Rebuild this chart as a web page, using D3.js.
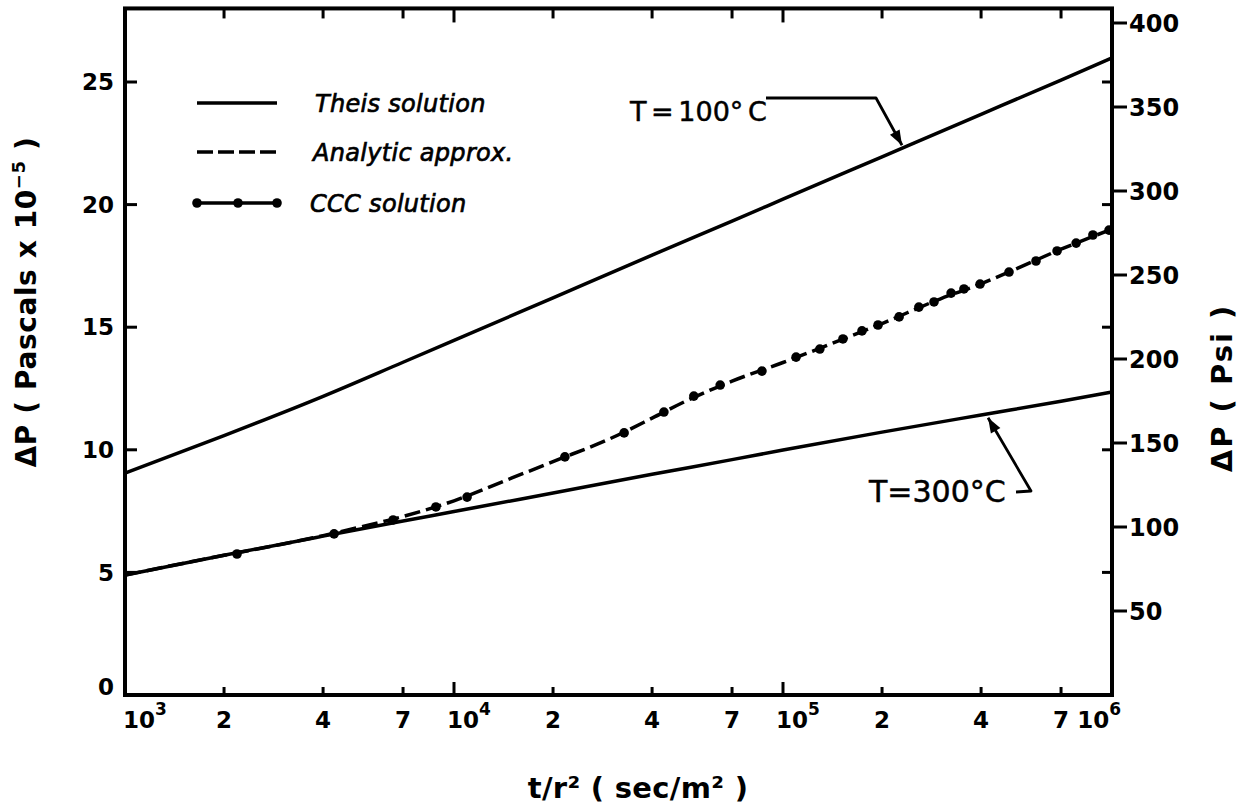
<!DOCTYPE html>
<html>
<head>
<meta charset="utf-8">
<script src="https://cdn.jsdelivr.net/npm/d3@7"></script>
<style>
  html, body { margin: 0; padding: 0; background: #fff; }
  svg { display: block; }
  text { font-family: "DejaVu Sans", sans-serif; fill: #000; }
</style>
</head>
<body>
<svg id="chart" width="1248" height="812"></svg>
<script>
// Pressure build-up ΔP (units of 10^5 Pa) against t/r^2 (sec/m^2)

// Theis solutions sampled on the labelled grid times
const theisTimes = [1e3, 2e3, 4e3, 7e3, 1e4, 2e4, 4e4, 7e4, 1e5, 2e5, 4e5, 7e5, 1e6];
const theis100 = [9.05, 10.58, 12.18, 13.57, 14.46, 16.2, 17.94, 19.33, 20.22, 21.95, 23.68, 25.08, 25.98];
const theis300 = [4.89, 5.70, 6.48, 7.10, 7.48, 8.24, 9.0, 9.6, 9.99, 10.72, 11.42, 11.98, 12.36];

// Analytic approximation
const analyticTimes = [1e3, 2e3, 3e3, 4e3, 5e3, 7e3, 1e4, 1.5e4, 2e4, 3e4, 4e4, 5e4, 7e4, 1e5, 1.5e5, 2e5, 3e5, 4e5, 5e5, 7e5, 1e6];
const analyticValues = [4.89, 5.70, 6.15, 6.50, 6.80, 7.28, 7.92, 8.85, 9.52, 10.47, 11.29, 11.95, 12.80, 13.56, 14.48, 15.15, 16.15, 16.77, 17.32, 18.18, 19.0];

// CCC solution points
const cccTimes = [2190, 4320, 6530, 8810, 10960, 21730, 32890, 43450, 53580, 64420, 86300,
  109600, 129400, 152100, 173800, 194500, 225400, 258800, 287700, 324300, 354800, 397200,
  486400, 587500, 680800, 778000, 874900, 979500];
const cccValues = [5.75, 6.57, 7.14, 7.67, 8.07, 9.71, 10.69, 11.54, 12.19, 12.64, 13.21,
  13.78, 14.11, 14.52, 14.85, 15.09, 15.42, 15.82, 16.03, 16.39, 16.56, 16.76,
  17.25, 17.70, 18.11, 18.43, 18.76, 18.96];

// Axis ticks
const paTicks = [0, 5, 10, 15, 20, 25];
const psiTicks = [50, 100, 150, 200, 250, 300, 350, 400];
const decadeExponents = [3, 4, 5, 6];
const minorMultipliers = [2, 4, 7];

// Text
const legendLabels = ["Theis solution", "Analytic approx.", "CCC solution"];
const curveLabels = ["T = 100° C", "T=300°C"];

const svg = d3.select("#chart");
const ink = "#000";

const plotLeft = 125, plotRight = 1112, plotBottom = 695;
const pxPerUnit = 24.52;
const x = d3.scaleLog().domain([1e3, 1e6]).range([plotLeft, plotRight]);
const y = d3.scaleLinear().domain([0, 28]).range([plotBottom, plotBottom - 28 * pxPerUnit]);
const yPsi = d3.scaleLinear().domain([0, 400]).range([plotBottom, 23]);
const plotTop = y(28);

const pts = (ts, vs) => ts.map((t, i) => ({ t, v: vs[i] }));
const line = d3.line().x(d => x(d.t)).y(d => y(d.v)).curve(d3.curveMonotoneX);

// value of a sampled curve at time t (linear in log t)
function valueAt(ts, vs, t) {
  const lt = Math.log10(t);
  for (let i = 0; i < ts.length - 1; i++) {
    const a = Math.log10(ts[i]), b = Math.log10(ts[i + 1]);
    if (lt >= a && lt <= b) return vs[i] + (vs[i + 1] - vs[i]) * (lt - a) / (b - a);
  }
  return vs[vs.length - 1];
}

// ---- curves ----
const curves = svg.append("g").attr("fill", "none").attr("stroke", ink)
  .attr("stroke-linecap", "round");

curves.append("path").attr("d", line(pts(theisTimes, theis100))).attr("stroke-width", 3.5);
curves.append("path").attr("d", line(pts(theisTimes, theis300))).attr("stroke-width", 3.5);
curves.append("path").attr("d", line(pts(analyticTimes, analyticValues)))
  .attr("stroke-width", 3.5).attr("stroke-dasharray", "16,6").attr("stroke-linecap", "butt");

svg.append("g").selectAll("circle").data(pts(cccTimes, cccValues)).join("circle")
  .attr("cx", d => x(d.t)).attr("cy", d => y(d.v)).attr("r", 4.8).attr("fill", ink);

// ---- frame ----
svg.append("rect").attr("x", plotLeft).attr("y", plotTop).attr("width", plotRight - plotLeft)
  .attr("height", plotBottom - plotTop).attr("fill", "none").attr("stroke", ink).attr("stroke-width", 4);

const ticks = svg.append("g").attr("stroke", ink).attr("stroke-width", 3);

// bottom / top ticks (log axis)
const xTicks = [];
decadeExponents.forEach(e => {
  xTicks.push({ v: Math.pow(10, e), major: true, label: String(e) });
  if (e < 6) minorMultipliers.forEach(m => xTicks.push({ v: m * Math.pow(10, e), major: false, label: String(m) }));
});
xTicks.forEach(d => {
  const px = x(d.v);
  ticks.append("line").attr("x1", px).attr("x2", px)
    .attr("y1", plotBottom).attr("y2", plotBottom - (d.major ? 13 : 8));
  ticks.append("line").attr("x1", px).attr("x2", px)
    .attr("y1", plotTop).attr("y2", plotTop + (d.major ? 14 : 10));
});

// left ticks (inward) and mirrored on the right (inward)
paTicks.filter(v => v > 0).forEach(v => {
  ticks.append("line").attr("x1", plotLeft).attr("x2", plotLeft + 12).attr("y1", y(v)).attr("y2", y(v));
  ticks.append("line").attr("x1", plotRight).attr("x2", plotRight - 10).attr("y1", y(v)).attr("y2", y(v));
});
// right psi ticks (outward)
psiTicks.forEach(v => {
  ticks.append("line").attr("x1", plotRight).attr("x2", plotRight + 15).attr("y1", yPsi(v)).attr("y2", yPsi(v));
});

// ---- tick labels ----
const lab = svg.append("g").attr("font-weight", "bold").attr("font-size", 23);

paTicks.forEach(v => {
  lab.append("text").attr("x", 114).attr("y", Math.min(y(v), plotBottom - 8))
    .attr("dy", "0.36em").attr("text-anchor", "end").text(v);
});
psiTicks.forEach(v => {
  lab.append("text").attr("x", 1129).attr("y", yPsi(v))
    .attr("dy", "0.36em").attr("text-anchor", "start").attr("font-size", 24).text(v);
});

const xBase = 728;
xTicks.forEach(d => {
  const px = x(d.v);
  if (!d.major) {
    lab.append("text").attr("x", px).attr("y", xBase).attr("text-anchor", "middle").text(d.label);
  } else {
    const isLast = d.v === 1e6;
    const t = lab.append("text").attr("y", xBase)
      .attr("x", isLast ? px + 9 : (d.v === 1e3 ? px - 2 : px - 7))
      .attr("text-anchor", isLast ? "end" : "start");
    t.append("tspan").text("10");
    t.append("tspan").attr("dy", -13).attr("font-size", 17).text(d.label);
  }
});

// ---- axis titles ----
const leftTitle = svg.append("text")
  .attr("transform", "translate(36,302) rotate(-90)")
  .attr("text-anchor", "middle").attr("font-weight", "bold").attr("font-size", 28)
  .attr("letter-spacing", 0.6);
leftTitle.append("tspan").text("ΔP ( Pascals x 10");
leftTitle.append("tspan").attr("dy", -11).attr("font-size", 18).text("−5");
leftTitle.append("tspan").attr("dy", 11).text(" )");

svg.append("text")
  .attr("transform", "translate(1232,388) rotate(-90)")
  .attr("text-anchor", "middle").attr("font-weight", "bold").attr("font-size", 29)
  .attr("letter-spacing", 2)
  .text("ΔP ( Psi )");

svg.append("text").attr("x", 638).attr("y", 798).attr("text-anchor", "middle")
  .attr("font-weight", "bold").attr("font-size", 29).attr("letter-spacing", 0.3)
  .text("t/r² ( sec/m² )");

// ---- legend ----
const legend = svg.append("g");
const legRows = [103, 152, 203];
const legX0 = 197, legX1 = 277;
legend.append("line").attr("x1", legX0).attr("x2", legX1).attr("y1", legRows[0]).attr("y2", legRows[0])
  .attr("stroke", ink).attr("stroke-width", 3.5);
legend.append("line").attr("x1", legX0).attr("x2", legX1 + 2).attr("y1", legRows[1]).attr("y2", legRows[1])
  .attr("stroke", ink).attr("stroke-width", 3.5).attr("stroke-dasharray", "16,5");
legend.append("line").attr("x1", legX0).attr("x2", legX1).attr("y1", legRows[2]).attr("y2", legRows[2])
  .attr("stroke", ink).attr("stroke-width", 3.5);
[legX0, (legX0 + legX1) / 2 + 1, legX1].forEach(cx => {
  legend.append("circle").attr("cx", cx).attr("cy", legRows[2]).attr("r", 4.8).attr("fill", ink);
});
legendLabels.forEach((s, i) => {
  legend.append("text").attr("x", [315, 313, 310][i]).attr("y", legRows[i] + 9)
    .attr("font-size", 24).attr("font-style", "italic")
    .attr("stroke", ink).attr("stroke-width", 0.7).attr("letter-spacing", 0.3)
    .text(s);
});

// ---- curve annotations with leader arrows ----
function arrowHead(g, tip, from, len, wid) {
  const dx = tip[0] - from[0], dy = tip[1] - from[1];
  const L = Math.hypot(dx, dy), ux = dx / L, uy = dy / L;
  const bx = tip[0] - ux * len, by = tip[1] - uy * len;
  g.append("path")
    .attr("d", `M${tip[0]},${tip[1]}L${bx - uy * wid},${by + ux * wid}L${bx + uy * wid},${by - ux * wid}Z`)
    .attr("fill", ink);
}

const ann = svg.append("g").attr("stroke-linejoin", "round");

// T = 100 °C
const tip100T = 2.3e5;
const tip100 = [x(tip100T), y(valueAt(theisTimes, theis100, tip100T)) - 3];
ann.append("text").attr("x", 630).attr("y", 121).attr("font-size", 27).attr("word-spacing", -4)
  .attr("stroke", ink).attr("stroke-width", 0.5).text(curveLabels[0]);
const bend100 = [tip100[0] - 26, 98];
ann.append("path").attr("d", `M766,98L${bend100[0]},${bend100[1]}L${tip100[0]},${tip100[1]}`)
  .attr("fill", "none").attr("stroke", ink).attr("stroke-width", 2.8);
arrowHead(ann, tip100, bend100, 15, 5.5);

// T = 300 °C
const tip300T = 4.2e5;
const tip300 = [x(tip300T), y(valueAt(theisTimes, theis300, tip300T)) + 4];
ann.append("text").attr("x", 869).attr("y", 502).attr("font-size", 30)
  .attr("stroke", ink).attr("stroke-width", 0.5).text(curveLabels[1]);
const bend300 = [1031, 491];
ann.append("path").attr("d", `M1016,492L${bend300[0]},${bend300[1]}L${tip300[0]},${tip300[1]}`)
  .attr("fill", "none").attr("stroke", ink).attr("stroke-width", 2.8);
arrowHead(ann, tip300, bend300, 15, 5.5);
</script>
</body>
</html>
